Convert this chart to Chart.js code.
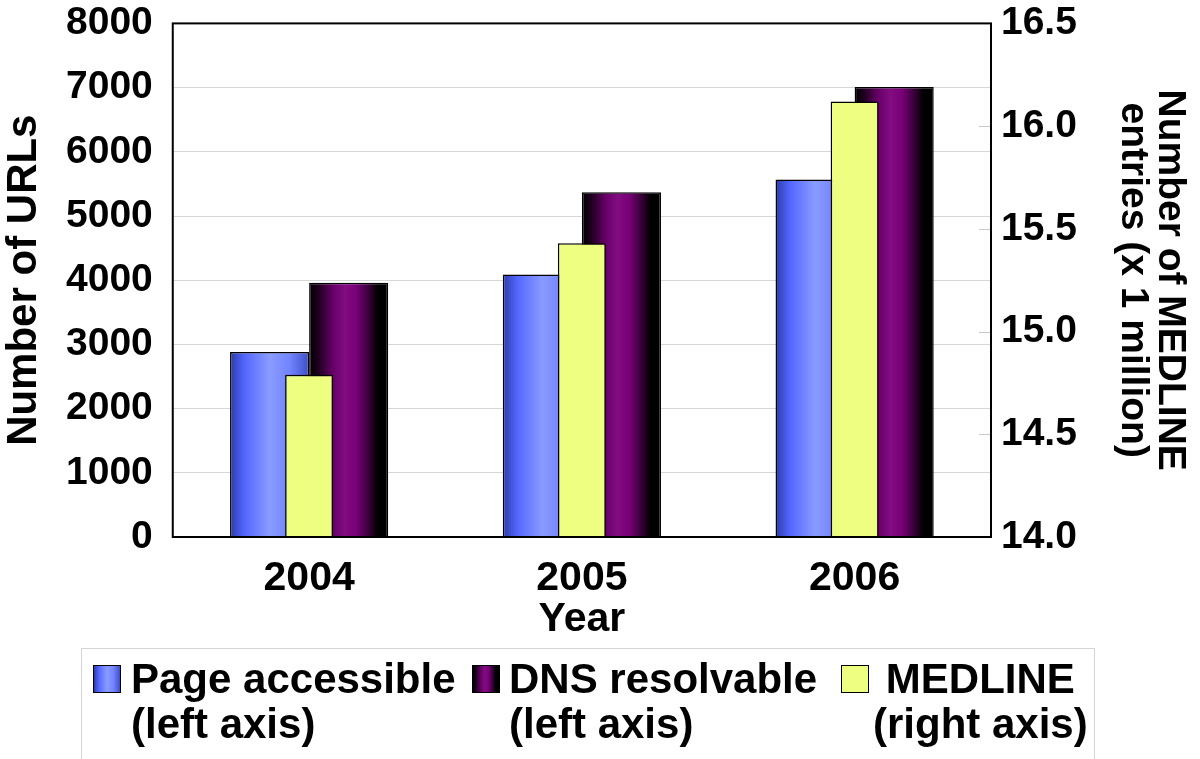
<!DOCTYPE html>
<html>
<head>
<meta charset="utf-8">
<script src="https://cdn.jsdelivr.net/npm/chart.js@4/dist/chart.umd.min.js"></script>
<style>
  html, body { margin: 0; padding: 0; background: #fff; }
  #wrap { position: relative; width: 1200px; height: 759px; }
  #legend {
    position: absolute; left: 81px; top: 648px; width: 1014px; height: 112px;
    border: 1px solid #d4d4d4; box-sizing: border-box;
    font: bold 42px "Liberation Sans", Arial, sans-serif; color: #000;
  }
  .item { position: absolute; top: 7px; line-height: 45px; white-space: nowrap; }
  .sw { position: absolute; top: 16px; width: 26px; height: 26px; border: 1.5px solid #000; }
</style>
</head>
<body>
<div id="wrap">
  <canvas id="grafica" width="1200" height="759"></canvas>
  <div id="legend"></div>
</div>
<script>
var years = ['2004', '2005', '2006'];
var pageAccessible = [2880, 4090, 5570];
var dnsResolvable = [3960, 5370, 7010];
var medline = [14.79, 15.43, 16.12];

var leftTicks = [0, 1000, 2000, 3000, 4000, 5000, 6000, 7000, 8000];
var rightTicks = [14.0, 14.5, 15.0, 15.5, 16.0, 16.5];

var legendLabels = [
    ['Page accessible', '(left axis)'],
    ['DNS resolvable', '(left axis)'],
    ['MEDLINE', '(right axis)']
];

var blueStops = [[0, '#2c3ca6'], [0.18, '#5266ff'], [0.5, '#8a9bff'], [0.75, '#7284ff'], [1, '#3e4ec8']];
var purpleStops = [[0, '#000000'], [0.12, '#1e001e'], [0.3, '#680068'], [0.45, '#820c82'], [0.6, '#780078'], [0.78, '#2c002c'], [0.87, '#000000'], [1, '#000000']];
var yellow = '#eefe80';

var FONT = '"Liberation Sans", Arial, sans-serif';
var NONE = 'rgba(0,0,0,0)';

function cssGradient(stops) {
    return 'linear-gradient(to right, ' + stops.map(function (s) {
        return s[1] + ' ' + (s[0] * 100) + '%';
    }).join(', ') + ')';
}

// gradient fill per bar, from the bar's own position
var barGradient = {
    id: 'barGradient',
    beforeDatasetsDraw: function (chart) {
        var c = chart.ctx;
        chart.data.datasets.forEach(function (ds, i) {
            if (!ds.stops) return;
            chart.getDatasetMeta(i).data.forEach(function (bar) {
                var l = bar.x - bar.width / 2;
                var g = c.createLinearGradient(l, 0, l + bar.width, 0);
                ds.stops.forEach(function (s) { g.addColorStop(s[0], s[1]); });
                bar.options = Object.assign({}, bar.options, { backgroundColor: g });
            });
        });
    }
};

// box round the plot and the short marks of the right axis
var plotBox = {
    id: 'plotBox',
    afterDatasetsDraw: function (chart) {
        var a = chart.chartArea, c = chart.ctx, y2 = chart.scales.y2;
        c.save();
        c.strokeStyle = '#c8c8c8';
        c.lineWidth = 1;
        rightTicks.forEach(function (v) {
            var y = Math.round(y2.getPixelForValue(v)) + 0.5;
            c.beginPath();
            c.moveTo(a.right - 12, y);
            c.lineTo(a.right, y);
            c.stroke();
        });
        c.strokeStyle = '#000';
        c.lineWidth = 2;
        c.strokeRect(a.left, a.top, a.right - a.left, a.bottom - a.top);
        c.restore();
    }
};

new Chart(document.getElementById('grafica'), {
    type: 'bar',
    data: {
        labels: years,
        datasets: [{
            label: legendLabels[0].join(' '),
            data: pageAccessible,
            yAxisID: 'y',
            stops: blueStops,
            backgroundColor: '#7284ff',
            borderColor: '#000',
            borderWidth: 1.5,
            categoryPercentage: 0.58,
            barPercentage: 1,
            order: 1
        }, {
            label: legendLabels[1].join(' '),
            data: dnsResolvable,
            yAxisID: 'y',
            stops: purpleStops,
            backgroundColor: '#800080',
            borderColor: '#000',
            borderWidth: 1.5,
            categoryPercentage: 0.58,
            barPercentage: 1,
            order: 2
        }, {
            label: legendLabels[2].join(' '),
            data: medline,
            yAxisID: 'y2',
            grouped: false,
            backgroundColor: yellow,
            borderColor: '#000',
            borderWidth: 1.5,
            categoryPercentage: 1,
            barPercentage: 0.176,
            order: 0
        }]
    },
    options: {
        responsive: false,
        animation: false,
        layout: {
            padding: { top: 0, right: 0, bottom: 119, left: 0 }
        },
        plugins: {
            legend: { display: false },
            tooltip: { enabled: false }
        },
        scales: {
            x: {
                grid: { drawOnChartArea: false, drawTicks: true, tickLength: 21, tickColor: NONE },
                border: { display: false },
                ticks: {
                    color: '#000',
                    padding: 0,
                    font: { family: FONT, size: 41, weight: 'bold', lineHeight: 1.0 }
                },
                title: {
                    display: true,
                    text: 'Year',
                    color: '#000',
                    padding: { top: 0, bottom: 0 },
                    font: { family: FONT, size: 41, weight: 'bold', lineHeight: 1.0 }
                }
            },
            y: {
                position: 'left',
                min: leftTicks[0],
                max: leftTicks[leftTicks.length - 1],
                afterBuildTicks: function (s) {
                    s.ticks = leftTicks.map(function (v) { return { value: v }; });
                },
                grid: { color: '#d6d6d6', lineWidth: 1, drawTicks: true, tickLength: 20, tickColor: NONE },
                border: { display: false },
                ticks: {
                    color: '#000',
                    padding: 0,
                    font: { family: FONT, size: 39, weight: 'bold' },
                    callback: function (v) { return String(v); }
                },
                title: {
                    display: true,
                    text: 'Number of URLs',
                    color: '#000',
                    padding: { top: 3, bottom: 21 },
                    font: { family: FONT, size: 42, weight: 'bold', lineHeight: 1.0 }
                }
            },
            y2: {
                position: 'right',
                min: rightTicks[0],
                max: rightTicks[rightTicks.length - 1],
                afterBuildTicks: function (s) {
                    s.ticks = rightTicks.map(function (v) { return { value: v }; });
                },
                grid: { drawOnChartArea: false, drawTicks: true, tickLength: 10, tickColor: NONE },
                border: { display: false },
                ticks: {
                    color: '#000',
                    padding: 0,
                    font: { family: FONT, size: 39, weight: 'bold' },
                    callback: function (v) { return Number(v).toFixed(1); }
                },
                title: {
                    display: true,
                    text: ['Number of MEDLINE', 'entries (x 1 million)'],
                    color: '#000',
                    padding: { top: 12, bottom: 37 },
                    font: { family: FONT, size: 39, weight: 'bold', lineHeight: 0.95 }
                }
            }
        }
    },
    plugins: [barGradient, plotBox]
});

// legend below the chart, two lines per entry
var legendPos = [
    { sw: 11, text: 49, align: 'left' },
    { sw: 390, text: 427, align: 'left' },
    { sw: 759, text: 791, align: 'center' }
];
var swatchFills = [cssGradient(blueStops), cssGradient(purpleStops), yellow];
var legendBox = document.getElementById('legend');
legendLabels.forEach(function (lines, i) {
    var sw = document.createElement('div');
    sw.className = 'sw';
    sw.style.left = legendPos[i].sw + 'px';
    sw.style.background = swatchFills[i];
    legendBox.appendChild(sw);
    var t = document.createElement('div');
    t.className = 'item';
    t.style.left = legendPos[i].text + 'px';
    t.style.textAlign = legendPos[i].align;
    t.innerHTML = lines.join('<br>');
    legendBox.appendChild(t);
});
</script>
</body>
</html>
